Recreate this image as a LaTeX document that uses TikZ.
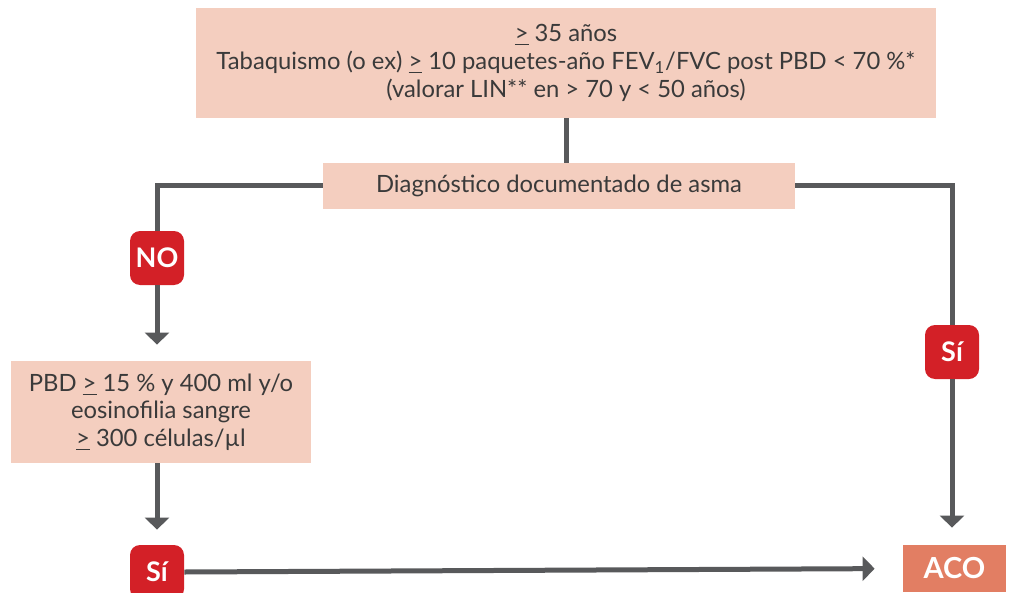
\documentclass[tikz,border=0pt]{standalone}
\usepackage{fontspec}
\setmainfont{Lato}
\usetikzlibrary{arrows.meta,calc}
\definecolor{peach}{HTML}{F4CEBF}
\definecolor{linegray}{HTML}{58595B}
\definecolor{badgered}{HTML}{D32027}
\definecolor{acocol}{HTML}{E27E63}
\definecolor{txt}{HTML}{3A3A3A}
\tikzset{
  box/.style={fill=peach, inner sep=0pt, align=center, text=txt, font=\fontsize{11.9}{13.8}\selectfont},
  badge/.style={fill=badgered, rounded corners=5pt, minimum width=27pt, minimum height=27pt, inner sep=0pt, text=white, font=\fontsize{13.5}{15}\selectfont\bfseries},
  conn/.style={draw=linegray, line width=2.5pt},
  arr/.style={conn, -{Triangle[width=12pt,length=6pt]}},
}
\begin{document}
\begin{tikzpicture}[x=0.5pt,y=-0.5pt]
\useasboundingbox (0,0) rectangle (1010,593);
\node[box, minimum width=370pt, minimum height=55pt] (top) at (566,63)
  {\underline{>} 35 años\\Tabaquismo (o ex) \underline{>} 10 paquetes-año FEV\textsubscript{1}/FVC post PBD < 70 \%*\\(valorar LIN** en > 70 y < 50 años)};
\node[box, minimum width=236pt, minimum height=23pt] (diag) at (559,186) {Diagnóstico documentado de asma};
\node[box, minimum width=150pt, minimum height=51pt] (pbd) at (161,412)
  {PBD \underline{>} 15 \% y 400 ml y/o\\eosinofilia sangre\\\underline{>} 300 células/µl};
\node[fill=acocol, minimum width=51.5pt, minimum height=23.5pt, inner sep=0pt, text=white, font=\fontsize{14.5}{16}\selectfont\bfseries] (aco) at (954.5,568.5) {ACO};
\node[badge] (nob) at (157,258) {NO};
\node[badge] (sir) at (952,352) {Sí};
\node[badge] (sib) at (157,572) {Sí};
\draw[conn] (top.south) -- (top.south |- diag.north);
\draw[conn] (diag.west) -| (nob.north);
\draw[arr, shorten >=8pt] (nob.south) -- (nob.south |- pbd.north);
\draw[conn] (diag.east) -| (sir.north);
\draw[arr, shorten >=8.5pt] (sir.south) -- (sir.south |- aco.north);
\draw[arr, shorten >=7.5pt] (sib.north |- pbd.south) -- (sib.north);
\draw[arr, shorten >=14pt] (sib.east) -- (aco.west);
\end{tikzpicture}
\end{document}
